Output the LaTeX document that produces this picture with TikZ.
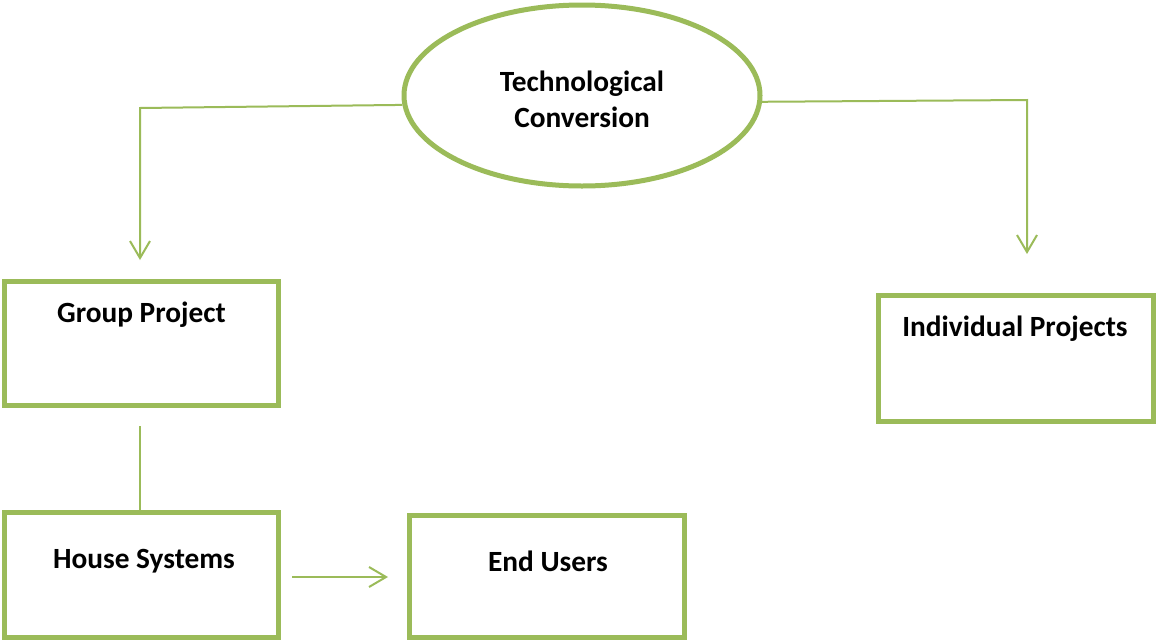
\documentclass[tikz,border=0pt]{standalone}
\usepackage{fontspec}
\setmainfont{Carlito}
\usetikzlibrary{arrows.meta,shapes.geometric}
\definecolor{leaf}{RGB}{155,187,89}
\begin{document}
\begin{tikzpicture}[x=0.75pt,y=-0.75pt,
  box/.style={draw=leaf,line width=3.75pt,rectangle,inner sep=0pt},
  lbl/.style={font=\fontsize{22}{27}\selectfont\bfseries,anchor=base,inner sep=0pt},
  link/.style={draw=leaf,line width=1.5pt},
  tip/.style={-{Straight Barb[length=12.75pt,width=15pt,line width=1.5pt]}}]
\useasboundingbox[fill=white] (0,0) rectangle (1156,643);

% central ellipse and its two-line title
\node[draw=leaf,line width=3.75pt,ellipse,minimum width=267pt,minimum height=135.75pt,
      inner sep=0pt] (tc) at (582,95.5) {};
\node[align=center,inner sep=0pt,font=\fontsize{22}{27}\selectfont\bfseries]
      (tct) at (582,99) {Technological\\Conversion};

% boxes
\node[box,minimum width=205.5pt,minimum height=93pt] (gp) at (141.7,343) {};
\node[box,minimum width=206.25pt,minimum height=94.5pt] (ip) at (1016,358.5) {};
\node[box,minimum width=205.5pt,minimum height=93.75pt] (hs) at (141.5,575) {};
\node[box,minimum width=206.25pt,minimum height=91.5pt] (eu) at (547,576.5) {};

% box titles
\node[lbl] (gpt) at (141.5,322) {Group Project};
\node[lbl] (ipt) at (1015,336) {Individual Projects};
\node[lbl] (hst) at (144,568) {House Systems};
\node[lbl] (eut) at (548,571) {End Users};

% connector bends and free ends
\coordinate (lk) at (140,108);
\coordinate (la) at (140,260);
\coordinate (rk) at (1027,100);
\coordinate (ra) at (1027,254);
\coordinate (gs) at (140,426);
\coordinate (h0) at (292,577);
\coordinate (h1) at (388,577);

\draw[link,tip] (tc.183) -- (lk) -- (la);
\draw[link,tip] (tc.358) -- (rk) -- (ra);
\draw[link] (gs) -- (hs.north -| gs);
\draw[link,tip] (h0) -- (h1);
\end{tikzpicture}
\end{document}
